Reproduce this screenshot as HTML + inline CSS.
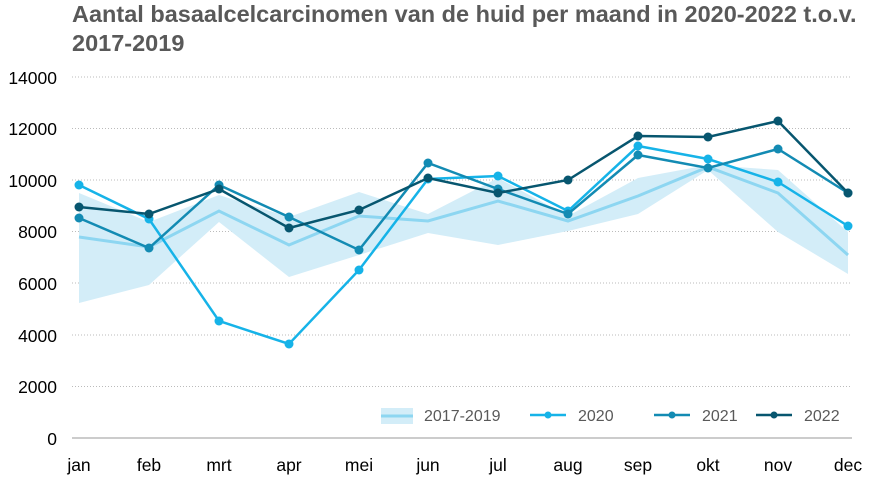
<!DOCTYPE html><html><head><style>body{margin:0;background:#fff}svg text{font-family:"Liberation Sans",sans-serif}</style></head><body>
<svg width="880" height="482" xmlns="http://www.w3.org/2000/svg">
<text x="72" y="22" font-size="23.5" font-weight="bold" fill="#595959">Aantal basaalcelcarcinomen van de huid per maand in 2020-2022 t.o.v.</text>
<text x="72" y="51" font-size="23.5" font-weight="bold" fill="#595959">2017-2019</text>
<g stroke="#bbb" stroke-dasharray="1,2" stroke-width="1">
<line x1="72" x2="852" y1="77" y2="77"/><line x1="72" x2="852" y1="128.5" y2="128.5"/><line x1="72" x2="852" y1="180" y2="180"/><line x1="72" x2="852" y1="231.5" y2="231.5"/><line x1="72" x2="852" y1="283" y2="283"/><line x1="72" x2="852" y1="335" y2="335"/><line x1="72" x2="852" y1="386.5" y2="386.5"/></g>
<line x1="72" x2="852" y1="438" y2="438" stroke="#999"/>
<g font-size="17.5" fill="#000" text-anchor="end">
<text x="57" y="84">14000</text><text x="57" y="135">12000</text><text x="57" y="187">10000</text><text x="57" y="238">8000</text><text x="57" y="290">6000</text><text x="57" y="342">4000</text><text x="57" y="393">2000</text><text x="57" y="445">0</text></g>
<g font-size="17.5" fill="#000" text-anchor="middle">
<text x="79" y="471">jan</text><text x="149" y="471">feb</text><text x="219" y="471">mrt</text><text x="289" y="471">apr</text><text x="359" y="471">mei</text><text x="428" y="471">jun</text><text x="498" y="471">jul</text><text x="568" y="471">aug</text><text x="638" y="471">sep</text><text x="708" y="471">okt</text><text x="778" y="471">nov</text><text x="848" y="471">dec</text></g>
<polygon fill="#d3edf8" points="79,193 149,222 219,195 289,217 359,192 428,214 498,178 568,216 638,178 708,165 778,170 848,232 848,274 778,232 708,170 638,214 568,231 498,245 428,233 359,255 289,277 219,222 149,285 79,303"/>
<polyline fill="none" stroke="#8dd6f1" stroke-width="3" points="79,237 149,247 219,211 289,245 359,216 428,221 498,201 568,221 638,196 708,167 778,193 848,255"/>
<polyline fill="none" stroke="#16b3e8" stroke-width="2.5" points="79,185 149,219 219,321 289,344 359,270 428,179 498,176 568,211 638,146 708,159 778,182 848,226"/>
<g fill="#16b3e8"><circle cx="79" cy="185" r="4.5"/><circle cx="149" cy="219" r="4.5"/><circle cx="219" cy="321" r="4.5"/><circle cx="289" cy="344" r="4.5"/><circle cx="359" cy="270" r="4.5"/><circle cx="428" cy="179" r="4.5"/><circle cx="498" cy="176" r="4.5"/><circle cx="568" cy="211" r="4.5"/><circle cx="638" cy="146" r="4.5"/><circle cx="708" cy="159" r="4.5"/><circle cx="778" cy="182" r="4.5"/><circle cx="848" cy="226" r="4.5"/></g>
<polyline fill="none" stroke="#138bb3" stroke-width="2.5" points="79,218 149,248 219,185 289,217 359,250 428,163 498,189 568,214 638,155 708,168 778,149 848,193"/>
<g fill="#138bb3"><circle cx="79" cy="218" r="4.5"/><circle cx="149" cy="248" r="4.5"/><circle cx="219" cy="185" r="4.5"/><circle cx="289" cy="217" r="4.5"/><circle cx="359" cy="250" r="4.5"/><circle cx="428" cy="163" r="4.5"/><circle cx="498" cy="189" r="4.5"/><circle cx="568" cy="214" r="4.5"/><circle cx="638" cy="155" r="4.5"/><circle cx="708" cy="168" r="4.5"/><circle cx="778" cy="149" r="4.5"/><circle cx="848" cy="193" r="4.5"/></g>
<polyline fill="none" stroke="#07566f" stroke-width="2.5" points="79,207 149,214 219,189 289,228 359,210 428,178 498,193 568,180 638,136 708,137 778,121 848,193"/>
<g fill="#07566f"><circle cx="79" cy="207" r="4.5"/><circle cx="149" cy="214" r="4.5"/><circle cx="219" cy="189" r="4.5"/><circle cx="289" cy="228" r="4.5"/><circle cx="359" cy="210" r="4.5"/><circle cx="428" cy="178" r="4.5"/><circle cx="498" cy="193" r="4.5"/><circle cx="568" cy="180" r="4.5"/><circle cx="638" cy="136" r="4.5"/><circle cx="708" cy="137" r="4.5"/><circle cx="778" cy="121" r="4.5"/><circle cx="848" cy="193" r="4.5"/></g>
<g font-size="16" fill="#595959">
<rect x="381" y="408" width="32" height="16" fill="#d3edf8"/><line x1="381" x2="413" y1="416" y2="416" stroke="#8dd6f1" stroke-width="3"/><text x="424" y="421">2017-2019</text>
<line x1="530" x2="566" y1="415" y2="415" stroke="#16b3e8" stroke-width="2.5"/><circle cx="548" cy="415" r="3.5" fill="#16b3e8"/><text x="578" y="421">2020</text>
<line x1="654" x2="690" y1="415" y2="415" stroke="#138bb3" stroke-width="2.5"/><circle cx="672" cy="415" r="3.5" fill="#138bb3"/><text x="702" y="421">2021</text>
<line x1="756" x2="792" y1="415" y2="415" stroke="#07566f" stroke-width="2.5"/><circle cx="774" cy="415" r="3.5" fill="#07566f"/><text x="804" y="421">2022</text></g>
</svg></body></html>
